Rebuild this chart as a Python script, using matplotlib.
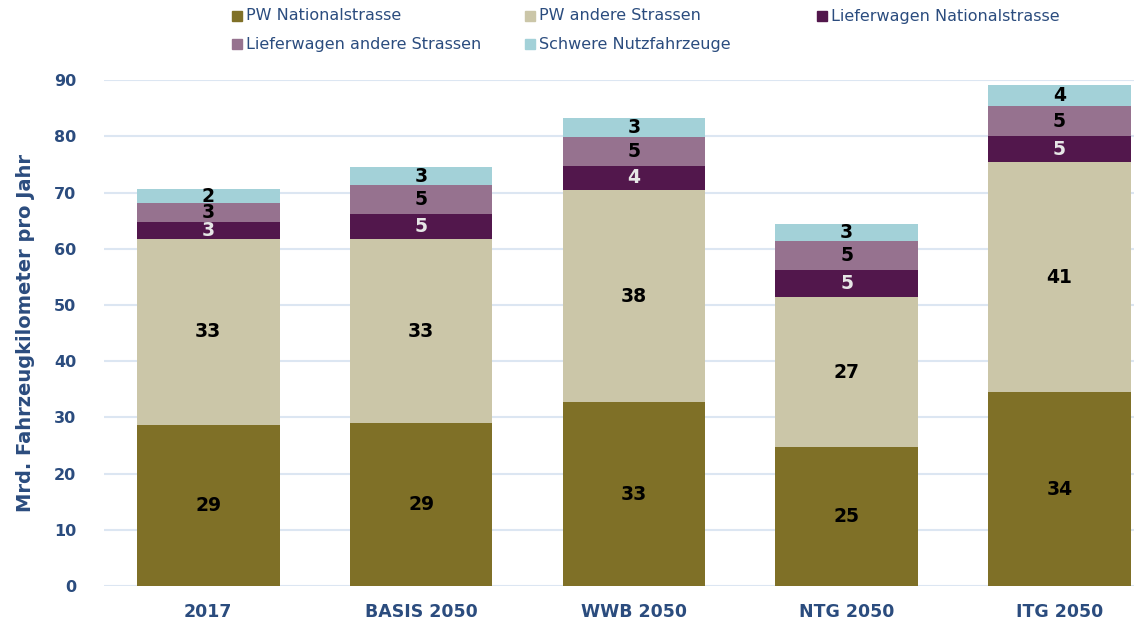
import numpy as np
import matplotlib.pyplot as plt
from matplotlib.patches import Rectangle

categories = ["2017", "BASIS 2050", "WWB 2050", "NTG 2050", "ITG 2050"]
series_names = ["PW Nationalstrasse", "PW andere Strassen", "Lieferwagen Nationalstrasse",
                "Lieferwagen andere Strassen", "Schwere Nutzfahrzeuge"]
pw_national = [28.6, 29.0, 32.7, 24.7, 34.5]
pw_andere = [33.2, 32.7, 37.7, 26.7, 40.9]
lw_national = [2.9, 4.5, 4.4, 4.8, 4.6]
lw_andere = [3.4, 5.1, 5.1, 5.2, 5.4]
schwere = [2.5, 3.2, 3.4, 3.0, 3.8]
labels = [
    ["29", "29", "33", "25", "34"],
    ["33", "33", "38", "27", "41"],
    ["3", "5", "4", "5", "5"],
    ["3", "5", "5", "5", "5"],
    ["2", "3", "3", "3", "4"],
]

colors = ["#7f7027", "#cbc6a8", "#52174c", "#96728f", "#a3d1d8"]
label_colors = ["black", "black", "#e6e6e6", "black", "black"]
blue = "#2b4c7e"

W, H = 1134, 630
fig = plt.figure(figsize=(W / 100, H / 100), dpi=100)
ax = fig.add_axes([0.0917, 0.0698, 0.9083, 0.803])

x = np.arange(len(categories))
bottom = np.zeros(len(categories))
for i, vals in enumerate([pw_national, pw_andere, lw_national, lw_andere, schwere]):
    vals = np.array(vals)
    ax.bar(x, vals, width=0.67, bottom=bottom, color=colors[i], label=series_names[i], zorder=2)
    for j in range(len(x)):
        ax.text(x[j], bottom[j] + vals[j] / 2, labels[i][j], ha="center", va="center",
                fontsize=13.5, fontweight="bold", color=label_colors[i], zorder=3)
    bottom += vals

ax.set_xlim(-0.49, 4.35)
ax.set_ylim(0, 90)
ax.set_yticks(range(0, 91, 10))
ax.set_xticks(x)
ax.set_xticklabels(categories)
ax.yaxis.grid(True, color="#dce6f2", linewidth=1.5, zorder=0)
ax.set_axisbelow(True)
for s in ax.spines.values():
    s.set_visible(False)
ax.tick_params(axis="both", length=0, colors=blue, labelsize=11.5)
ax.tick_params(axis="x", pad=12, labelsize=12.5)
ax.tick_params(axis="y", pad=20)
for t in ax.get_xticklabels() + ax.get_yticklabels():
    t.set_fontweight("bold")

ax.set_ylabel("Mrd. Fahrzeugkilometer pro Jahr", fontsize=14, fontweight="bold",
              color=blue, labelpad=14)

# legend laid out like the original (fixed column grid, row-major)
leg_x = [237, 530, 822]
leg_y = [16, 44]
for k, name in enumerate(series_names):
    px = leg_x[k % 3]
    py = leg_y[k // 3]
    fig.patches.append(Rectangle(((px - 5) / W, 1 - (py + 5) / H), 10 / W, 10 / H,
                                 transform=fig.transFigure, color=colors[k]))
    fig.text((px + 9) / W, 1 - py / H, name, ha="left", va="center",
             fontsize=11.5, color=blue)

fig.savefig("out.png", dpi=100)
